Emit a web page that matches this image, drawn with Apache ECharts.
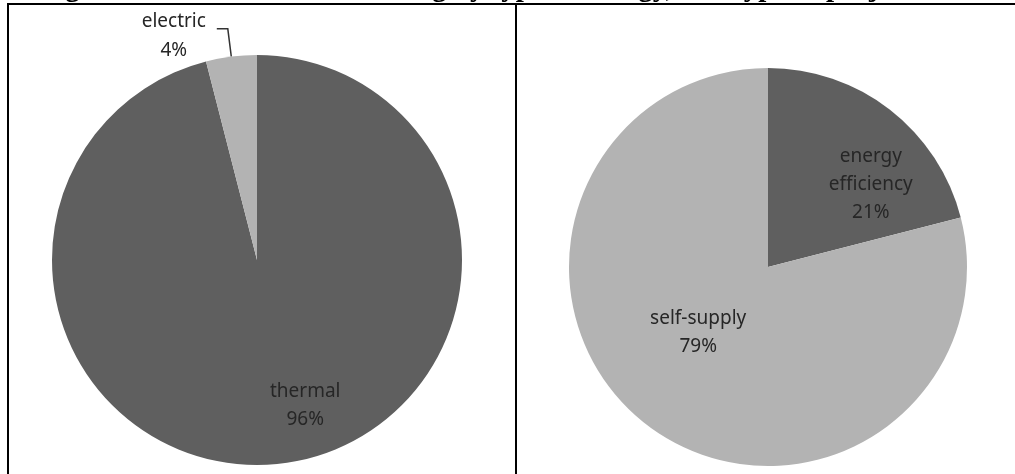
<!DOCTYPE html>
<html>
<head>
<meta charset="utf-8">
<script src="https://cdn.jsdelivr.net/npm/echarts@6/dist/echarts.min.js"></script>
<style>
html,body{margin:0;padding:0;background:#fff;}
#chart{width:1015px;height:474px;}
</style>
</head>
<body>
<div id="chart"></div>
<script>
// Data
const titleText = 'Figure 3: Distribution of funding by type of energy, and type of project';
const energyTypes = ['thermal', 'electric'];
const energyShares = [96, 4];
const projectTypes = ['energy efficiency', 'self-supply'];
const projectShares = [21, 79];

const DARK = '#5f5f5f';
const LIGHT = '#b3b3b3';
const FONT = '"Noto Sans", "Open Sans", sans-serif';

const chart = echarts.init(document.getElementById('chart'), null, {renderer: 'canvas'});

function pieData(names, values, colors, labelOpts) {
  return names.map((n, i) => ({
    name: n,
    value: values[i],
    itemStyle: {color: colors[i]},
    label: labelOpts[i]
  }));
}

const baseLabel = {
  fontFamily: FONT,
  fontSize: 19,
  lineHeight: 28,
  color: '#262626'
};

const leftData = pieData(energyTypes, energyShares, [DARK, LIGHT], [
  {position: 'inside', offset: [35, 41]},
  {
    position: 'outside',
    formatter: p => '{a|' + p.name + '}\n{a|' + p.value + '%}',
    rich: {a: {width: 76, align: 'center', fontFamily: FONT, fontSize: 19, lineHeight: 29, color: '#262626'}},
    padding: [14, 0, 0, 0]
  }
]);

const rightData = pieData(projectTypes, projectShares, [DARK, LIGHT], [
  {position: 'inside', offset: [40, -1]},
  {position: 'inside', offset: [-7, -15]}
]);

const labelFmt = p => p.name.replace(' ', '\n') + '\n' + p.value + '%';

chart.setOption({
  animation: false,
  backgroundColor: '#fff',
  graphic: [
    {type: 'text', x: 914, y: 3, style: {text: titleText, font: 'bold 29px "Liberation Serif", serif', lineHeight: 29, fill: '#000', align: 'right', verticalAlign: 'bottom'}},
    {type: 'line', shape: {x1: 7, y1: 4, x2: 1015, y2: 4}, style: {stroke: '#000', lineWidth: 2}},
    {type: 'line', shape: {x1: 8, y1: 4, x2: 8, y2: 474}, style: {stroke: '#000', lineWidth: 2}},
    {type: 'line', shape: {x1: 516, y1: 4, x2: 516, y2: 474}, style: {stroke: '#000', lineWidth: 2}}
  ],
  series: [
    {
      type: 'pie',
      center: [257, 260],
      radius: 205,
      startAngle: 90,
      clockwise: true,
      avoidLabelOverlap: false,
      emphasis: {disabled: true},
      itemStyle: {borderWidth: 0},
      label: Object.assign({show: true, formatter: labelFmt}, baseLabel),
      labelLine: {show: true, length: 28, length2: 11, lineStyle: {color: '#333', width: 1.5}},
      data: leftData
    },
    {
      type: 'pie',
      center: [768, 267],
      radius: 199,
      startAngle: 90,
      clockwise: true,
      avoidLabelOverlap: false,
      emphasis: {disabled: true},
      itemStyle: {borderWidth: 0},
      label: Object.assign({show: true, formatter: labelFmt}, baseLabel),
      labelLine: {show: false},
      data: rightData
    }
  ]
});
</script>
</body>
</html>
